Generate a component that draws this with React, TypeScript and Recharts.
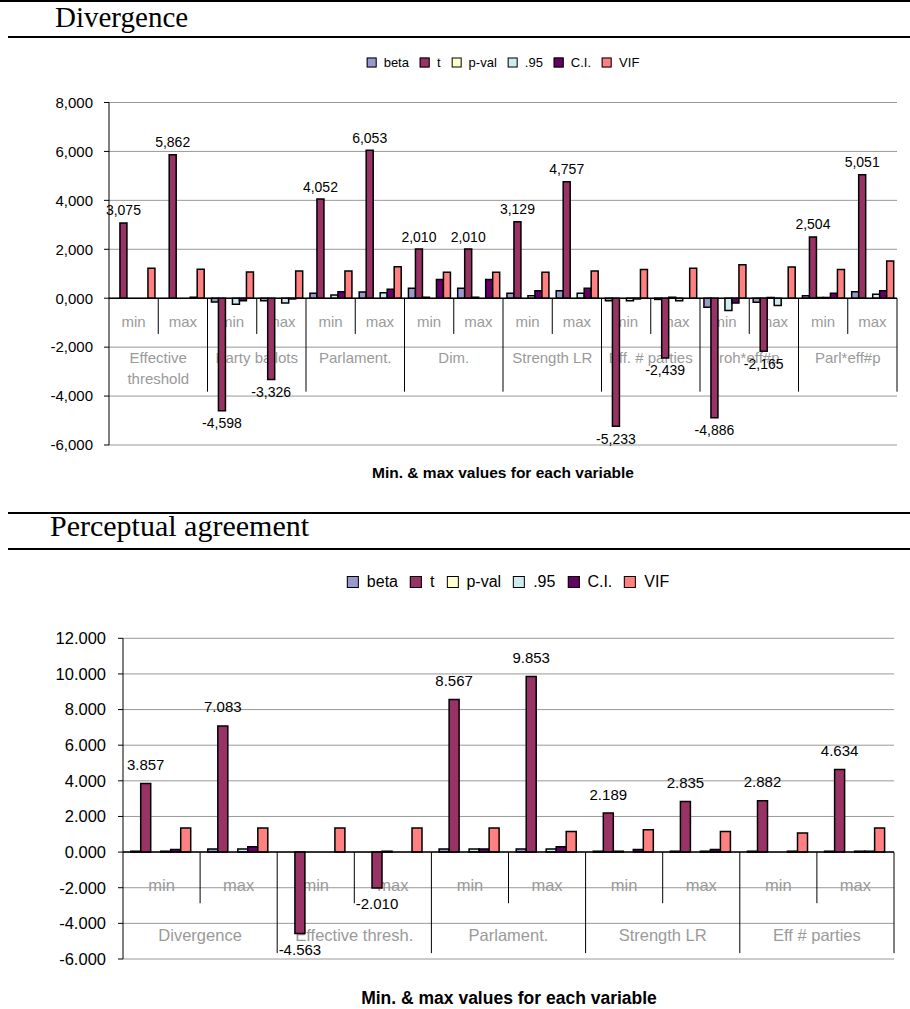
import React from "react";
import {
  Bar,
  BarChart,
  CartesianGrid,
  LabelList,
  ReferenceArea,
  ReferenceLine,
  XAxis,
  YAxis,
} from "recharts";

const FONT = '"Liberation Sans", Arial, sans-serif';
const SERIF = '"Liberation Serif", "Times New Roman", serif';
const CAT_GRAY = "#9a9a9a";

const SERIES = [
  { key: "beta", label: "beta", color: "#9999CC" },
  { key: "t", label: "t", color: "#993366" },
  { key: "pval", label: "p-val", color: "#FFFFCC" },
  { key: "c95", label: ".95", color: "#CCECF0" },
  { key: "ci", label: "C.I.", color: "#660066" },
  { key: "vif", label: "VIF", color: "#FF8080" },
];

const subLabels = ["min", "max"];

// Divergence
const divGroups = [
  "Effective\nthreshold",
  "Party ballots",
  "Parlament.",
  "Dim.",
  "Strength LR",
  "Eff. # parties",
  "roh*eff#p",
  "Parl*eff#p",
];
const divBeta = [0, 0, -0.15, -0.1, 0.2, 0.25, 0.41, 0.41, 0.2, 0.31, -0.1, -0.05, -0.37, -0.16, 0.1, 0.26];
const divT = [3.075, 5.862, -4.598, -3.326, 4.052, 6.053, 2.01, 2.01, 3.129, 4.757, -5.233, -2.439, -4.886, -2.165, 2.504, 5.051];
const divPval = [0, 0, 0, 0, 0, 0, 0.04, 0.04, 0, 0, 0, 0.04, 0, 0.03, 0.03, 0];
const div95 = [0, 0, -0.25, -0.2, 0.13, 0.22, 0, 0, 0.1, 0.2, -0.1, -0.1, -0.5, -0.3, 0.03, 0.16];
const divCI = [0, 0.04, -0.1, -0.03, 0.26, 0.37, 0.76, 0.76, 0.31, 0.41, -0.03, 0, -0.2, 0, 0.2, 0.31];
const divVIF = [1.22, 1.18, 1.07, 1.11, 1.11, 1.29, 1.06, 1.06, 1.06, 1.11, 1.17, 1.22, 1.37, 1.28, 1.17, 1.52];
const divTicks = [-6, -4, -2, 0, 2, 4, 6, 8];

// Perceptual agreement
const paGroups = ["Divergence", "Effective thresh.", "Parlament.", "Strength LR", "Eff # parties"];
const paBeta = [0.05, 0.18, 0, 0, 0.18, 0.18, 0.05, 0.05, 0.05, 0.05];
const paT = [3.857, 7.083, -4.563, -2.01, 8.567, 9.853, 2.189, 2.835, 2.882, 4.634];
const paPval = [0, 0, 0, 0.05, 0, 0, 0.05, 0, 0, 0];
const pa95 = [0.05, 0.18, 0, 0, 0.18, 0.18, 0, 0.05, 0, 0.05];
const paCI = [0.15, 0.3, 0, 0, 0.18, 0.3, 0.15, 0.15, 0.05, 0.05];
const paVIF = [1.35, 1.35, 1.35, 1.35, 1.35, 1.16, 1.25, 1.16, 1.07, 1.35];
const paTicks = [-6, -4, -2, 0, 2, 4, 6, 8, 10, 12];

type Row = { key: string; group: number; sub: number; [k: string]: number | string };

// one row per min/max cell; key is "<group>-<min|max>"
function buildRows(cols: number[][]): Row[] {
  const [beta, t, pval, c95, ci, vif] = cols;
  return t.map((_, i) => ({
    key: `${Math.floor(i / 2)}-${subLabels[i % 2]}`,
    group: Math.floor(i / 2),
    sub: i % 2,
    beta: beta[i],
    t: t[i],
    pval: pval[i],
    c95: c95[i],
    ci: ci[i],
    vif: vif[i],
  }));
}

const divData = buildRows([divBeta, divT, divPval, div95, divCI, divVIF]);
const paData = buildRows([paBeta, paT, paPval, pa95, paCI, paVIF]);

type AxisLayout = {
  subDepth: number; // how far (value units) the min/max cells reach below zero
  subText: number;
  groupDepth: number;
  groupText: number;
  lineStep: number;
  fontSize: number;
};

const divLayout: AxisLayout = {
  subDepth: 1.46,
  subText: 0.96,
  groupDepth: 3.82,
  groupText: 2.41,
  lineStep: 0.86,
  fontSize: 15,
};

const paLayout: AxisLayout = {
  subDepth: 2.87,
  subText: 1.84,
  groupDepth: 5.67,
  groupText: 4.68,
  lineStep: 1,
  fontSize: 16.5,
};

// min/max cell under the zero line, separator on its right edge
function SubCell(props: any) {
  const { x, y, width, height, label, withLine, layout } = props;
  const k = height / layout.subDepth;
  return (
    <g>
      {withLine && (
        <line x1={x + width} x2={x + width} y1={y} y2={y + height} stroke="#000" strokeWidth={1} />
      )}
      <text
        x={x + width / 2}
        y={y + layout.subText * k}
        textAnchor="middle"
        dominantBaseline="central"
        fill={CAT_GRAY}
        fontSize={layout.fontSize}
        fontFamily={FONT}
      >
        {label}
      </text>
    </g>
  );
}

function GroupCell(props: any) {
  const { x, y, width, height, label, layout } = props;
  const k = height / layout.groupDepth;
  const lines = String(label).split("\n");
  return (
    <g>
      <line x1={x + width} x2={x + width} y1={y} y2={y + height} stroke="#000" strokeWidth={1} />
      {lines.map((ln, i) => (
        <text
          key={i}
          x={x + width / 2}
          y={y + (layout.groupText + i * layout.lineStep) * k}
          textAnchor="middle"
          dominantBaseline="central"
          fill={CAT_GRAY}
          fontSize={layout.fontSize}
          fontFamily={FONT}
        >
          {ln}
        </text>
      ))}
    </g>
  );
}

function renderCells(data: Row[], groups: string[], layout: AxisLayout) {
  const cells = data.map((d) => (
    <ReferenceArea
      key={`s-${d.key}`}
      x1={d.key}
      x2={d.key}
      y1={0}
      y2={-layout.subDepth}
      ifOverflow="visible"
      shape={(p: any) => (
        <SubCell {...p} label={subLabels[d.sub as number]} withLine={d.sub === 0} layout={layout} />
      )}
    />
  ));
  const groupCells = groups.map((g, gi) => (
    <ReferenceArea
      key={`g-${gi}`}
      x1={`${gi}-min`}
      x2={`${gi}-max`}
      y1={0}
      y2={-layout.groupDepth}
      ifOverflow="visible"
      shape={(p: any) => <GroupCell {...p} label={g} layout={layout} />}
    />
  ));
  return [...cells, ...groupCells];
}

// value label on the t bars: above positive bars, below negative ones
function tLabel(fmt: (v: number) => string, above: number, below: number, fontSize: number) {
  return (props: any) => {
    const vb = props.viewBox ?? props;
    const { x, y, width, height } = vb;
    const value = Number(props.value);
    const top = Math.min(y, y + height);
    const bottom = Math.max(y, y + height);
    const ly = value >= 0 ? top - above : bottom + below;
    return (
      <text
        x={x + width / 2}
        y={ly}
        textAnchor="middle"
        dominantBaseline="central"
        fontSize={fontSize}
        fontFamily={FONT}
        fill="#000"
      >
        {fmt(value)}
      </text>
    );
  };
}

const commaFmt = (v: number) => v.toFixed(3).replace(".", ",");
const dotFmt = (v: number) => v.toFixed(3);

function SeriesLegend({ cx, cy, fontSize, swatch, gap, spacing }: any) {
  return (
    <div
      style={{
        position: "absolute",
        left: cx,
        top: cy,
        transform: "translate(-50%, -50%)",
        display: "flex",
        alignItems: "center",
        whiteSpace: "nowrap",
        fontSize,
        fontFamily: FONT,
        color: "#000",
        lineHeight: 1,
      }}
    >
      {SERIES.map((s, i) => (
        <span
          key={s.key}
          style={{ display: "flex", alignItems: "center", marginRight: i < SERIES.length - 1 ? spacing : 0 }}
        >
          <span
            style={{
              display: "inline-block",
              width: swatch,
              height: swatch,
              background: s.color,
              border: "1.5px solid #000",
              boxSizing: "border-box",
              marginRight: gap,
            }}
          />
          {s.label}
        </span>
      ))}
    </div>
  );
}

export default function App() {
  return (
    <div
      style={{
        position: "absolute",
        left: 0,
        top: 0,
        width: 910,
        height: 1009,
        background: "#fff",
        fontFamily: FONT,
        overflow: "hidden",
      }}
    >
      <svg width={910} height={1009} style={{ position: "absolute", left: 0, top: 0 }}>
        <rect x={0} y={0} width={910} height={2} fill="#000" />
        <text x={55} y={27} fontFamily={SERIF} fontSize={29} fill="#000">
          Divergence
        </text>
        <rect x={8} y={36} width={902} height={2} fill="#000" />
        <text x={503} y={472} textAnchor="middle" dominantBaseline="central" fontSize={15.5} fontWeight="bold" fontFamily={FONT}>
          Min. &amp; max values for each variable
        </text>

        <rect x={8} y={512} width={902} height={2} fill="#000" />
        <text x={50} y={536} fontFamily={SERIF} fontSize={30} fill="#000">
          Perceptual agreement
        </text>
        <rect x={8} y={548} width={902} height={2} fill="#000" />
        <text x={509} y={998} textAnchor="middle" dominantBaseline="central" fontSize={17.5} fontWeight="bold" fontFamily={FONT}>
          Min. &amp; max values for each variable
        </text>
      </svg>

      <SeriesLegend cx={503} cy={62} fontSize={13} swatch={10} gap={7} spacing={11} />
      <SeriesLegend cx={508} cy={582} fontSize={16} swatch={12} gap={8} spacing={12} />

      <div style={{ position: "absolute", left: 0, top: 0 }}>
        <BarChart
          width={910}
          height={460}
          data={divData}
          margin={{ top: 102.5, right: 13, bottom: 15, left: 39 }}
          barGap={0}
          barCategoryGap="8%"
        >
          <CartesianGrid horizontal vertical={false} stroke="#999" />
          <XAxis dataKey="key" hide />
          <YAxis
            domain={[-6, 8]}
            ticks={divTicks}
            interval={0}
            width={70}
            tickFormatter={commaFmt}
            tick={{ fontSize: 15, fill: "#000", fontFamily: FONT }}
            axisLine={{ stroke: "#000" }}
            tickLine={{ stroke: "#000" }}
            tickSize={5}
            tickMargin={11}
          />
          {renderCells(divData, divGroups, divLayout)}
          <ReferenceLine y={0} stroke="#000" strokeWidth={1.5} />
          {SERIES.map((s) => (
            <Bar
              key={s.key}
              dataKey={s.key}
              fill={s.color}
              stroke="#000"
              strokeWidth={1.5}
              isAnimationActive={false}
            >
              {s.key === "t" && <LabelList dataKey="t" content={tLabel(commaFmt, 12.5, 12.5, 14)} />}
            </Bar>
          ))}
        </BarChart>
      </div>

      <div style={{ position: "absolute", left: 0, top: 560 }}>
        <BarChart
          width={910}
          height={410}
          data={paData}
          margin={{ top: 78.3, right: 16, bottom: 11, left: 43 }}
          barGap={0}
          barCategoryGap="10%"
        >
          <CartesianGrid horizontal vertical={false} stroke="#999" />
          <XAxis dataKey="key" hide />
          <YAxis
            domain={[-6, 12]}
            ticks={paTicks}
            interval={0}
            width={80}
            tickFormatter={dotFmt}
            tick={{ fontSize: 16.5, fill: "#000", fontFamily: FONT }}
            axisLine={{ stroke: "#000" }}
            tickLine={{ stroke: "#000" }}
            tickSize={5}
            tickMargin={12}
          />
          {renderCells(paData, paGroups, paLayout)}
          <ReferenceLine y={0} stroke="#000" strokeWidth={1.5} />
          {SERIES.map((s) => (
            <Bar
              key={s.key}
              dataKey={s.key}
              fill={s.color}
              stroke="#000"
              strokeWidth={1.5}
              isAnimationActive={false}
            >
              {s.key === "t" && <LabelList dataKey="t" content={tLabel(dotFmt, 19, 16, 15)} />}
            </Bar>
          ))}
        </BarChart>
      </div>
    </div>
  );
}
